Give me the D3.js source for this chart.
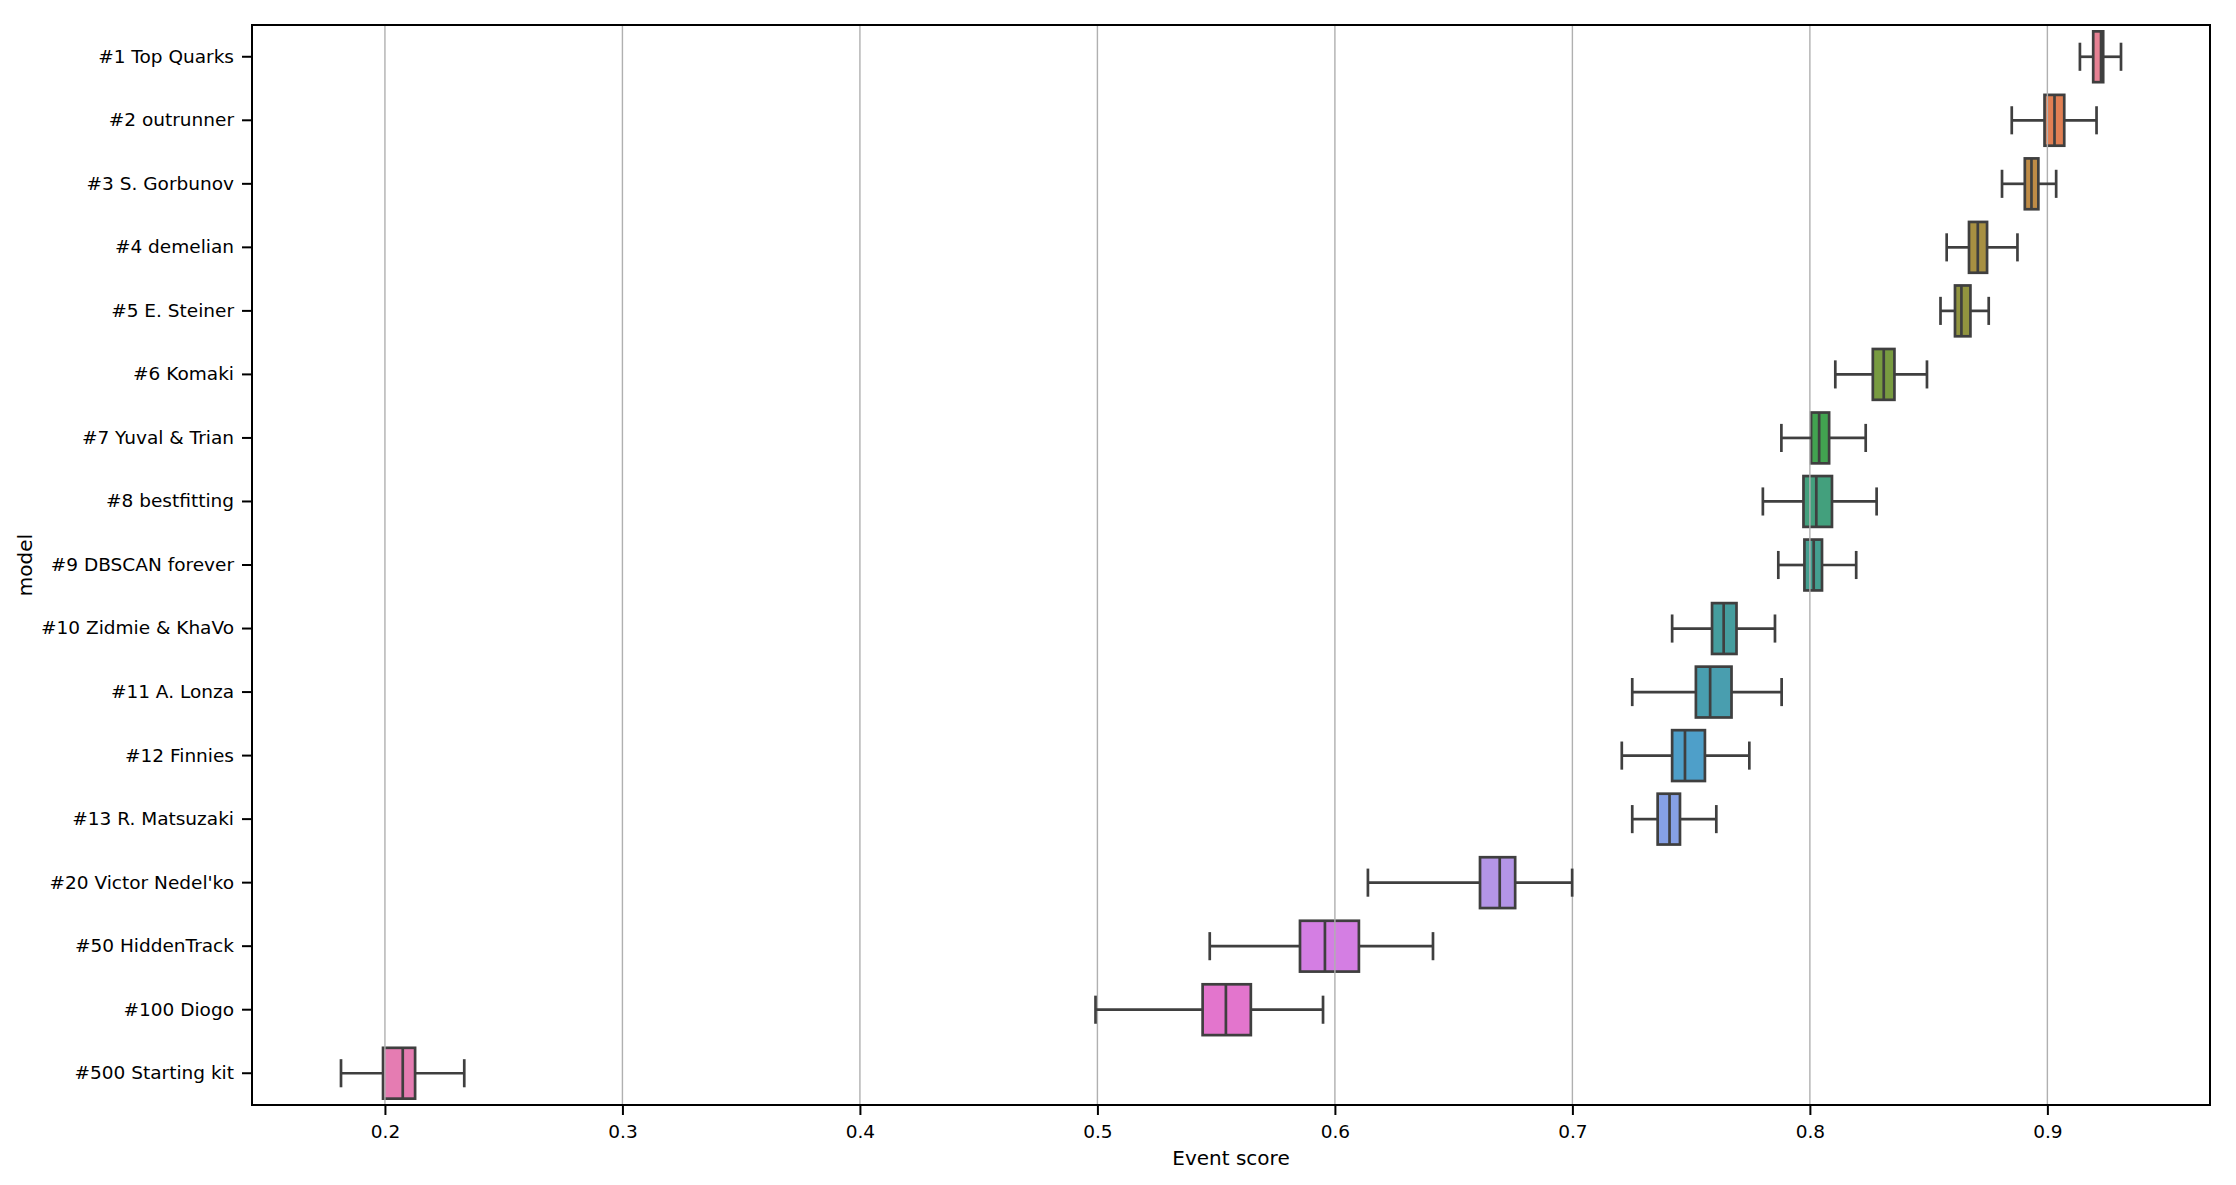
<!DOCTYPE html>
<html lang='en'>

<head>
    <meta charset='UTF-8'>
    <title>Event score by model</title>
    <script src='https://d3js.org/d3.v7.min.js' charset='utf-8'></script>
    <style>
        body {
            margin: 0px;
            overflow: hidden;
            background: #ffffff;
            font-family: 'DejaVu Sans', sans-serif;
        }

        #chart text {
            fill: #000000;
        }
    </style>
</head>

<body>
    <div id='chart'></div>
    <script>
        'use strict';

        // values
        const models = ['#1 Top Quarks', '#2 outrunner', '#3 S. Gorbunov', '#4 demelian', '#5 E. Steiner',
            '#6 Komaki', '#7 Yuval & Trian', '#8 bestfitting', '#9 DBSCAN forever', '#10 Zidmie & KhaVo',
            '#11 A. Lonza', '#12 Finnies', '#13 R. Matsuzaki', "#20 Victor Nedel'ko", '#50 HiddenTrack',
            '#100 Diogo', '#500 Starting kit'];
        const whiskerLow = [0.9137, 0.8850, 0.8809, 0.8576, 0.8550, 0.8107, 0.7880, 0.7802, 0.7867, 0.7420,
            0.7252, 0.7208, 0.7252, 0.6139, 0.5473, 0.4992, 0.1815];
        const q1 = [0.9193, 0.8988, 0.8905, 0.8670, 0.8611, 0.8265, 0.8005, 0.7973, 0.7977, 0.7588,
            0.7520, 0.7420, 0.7359, 0.6611, 0.5853, 0.5443, 0.1992];
        const medians = [0.9226, 0.9030, 0.8933, 0.8707, 0.8638, 0.8311, 0.8039, 0.8027, 0.8016, 0.7637,
            0.7580, 0.7474, 0.7409, 0.6694, 0.5958, 0.5541, 0.2075];
        const q3 = [0.9235, 0.9071, 0.8962, 0.8746, 0.8676, 0.8356, 0.8081, 0.8093, 0.8051, 0.7691,
            0.7670, 0.7558, 0.7453, 0.6759, 0.6101, 0.5646, 0.2127];
        const whiskerHigh = [0.9310, 0.9207, 0.9037, 0.8874, 0.8753, 0.8493, 0.8235, 0.8281, 0.8195, 0.7853,
            0.7881, 0.7745, 0.7606, 0.6999, 0.6413, 0.5950, 0.2334];
        const xTicks = [0.2, 0.3, 0.4, 0.5, 0.6, 0.7, 0.8, 0.9];

        const data = models.map((m, i) => ({
            model: m, lo: whiskerLow[i], q1: q1[i], med: medians[i], q3: q3[i], hi: whiskerHigh[i]
        }));

        const W = 2236, H = 1185;
        const margin = { top: 25, right: 26, bottom: 80, left: 252 },
            width = W - margin.left - margin.right,
            height = H - margin.top - margin.bottom;

        // husl palette like seaborn, desaturated to 0.75
        const M = [[3.2406, -1.5372, -0.4986], [-0.9689, 1.8758, 0.0415], [0.0557, -0.2040, 1.0570]];
        function maxChroma(L, h) {
            const hr = h * Math.PI / 180, sinH = Math.sin(hr), cosH = Math.cos(hr);
            const sub1 = Math.pow(L + 16, 3) / 1560896;
            const sub2 = sub1 > 0.008856 ? sub1 : L / 903.3;
            let result = Infinity;
            for (const [m1, m2, m3] of M) {
                const top = (0.99915 * m1 + 1.05122 * m2 + 1.14460 * m3) * sub2;
                const rb = 0.86330 * m3 - 0.17266 * m2;
                const lb = 0.12949 * m3 - 0.38848 * m1;
                const bottom = (rb * sinH + lb * cosH) * sub2;
                for (const t of [0, 1]) {
                    const C = L * (top - 1.05122 * t) / (bottom + 0.17266 * sinH * t);
                    if (C > 0 && C < result) result = C;
                }
            }
            return result;
        }
        function huslToRgb(h, s, L) {
            const C = maxChroma(L, h) / 100 * s;
            const hr = h * Math.PI / 180;
            const U = C * Math.cos(hr), V = C * Math.sin(hr);
            const t = (L + 16) / 116;
            const Y = t * t * t > 0.008856 ? t * t * t : (116 * t - 16) / 903.3;
            const vu = U / (13 * L) + 0.19784, vv = V / (13 * L) + 0.46834;
            const X = -(9 * Y * vu) / ((vu - 4) * vv - vu * vv);
            const Z = (9 * Y - 15 * vv * Y - vv * X) / (3 * vv);
            return M.map(r => {
                const c = r[0] * X + r[1] * Y + r[2] * Z;
                const v = c <= 0.0031308 ? 12.92 * c : 1.055 * Math.pow(c, 1 / 2.4) - 0.055;
                return Math.min(1, Math.max(0, v));
            });
        }
        const n = models.length;
        const colors = d3.range(n).map(i => {
            const hue = ((i / n + 0.01) % 1) * 359;
            const [r, g, b] = huslToRgb(hue, 0.9 * 99, 0.65 * 99);
            const c = d3.hsl(d3.rgb(r * 255, g * 255, b * 255));
            c.s *= 0.75;
            return c;
        });
        const lum = d3.min(colors, c => c.l) * 0.6;
        const gray = d3.rgb(lum * 255, lum * 255, lum * 255).formatHex();

        const svg = d3.select('#chart')
            .append('svg')
            .attr('width', W)
            .attr('height', H)
            .append('g')
            .attr('transform', `translate(${margin.left}, ${margin.top})`);

        const lo = d3.min(whiskerLow), hi = d3.max(whiskerHigh), pad = (hi - lo) * 0.05;
        const x = d3.scaleLinear()
            .domain([lo - pad, hi + pad])
            .range([0, width]);

        const y = d3.scaleBand()
            .domain(models)
            .range([0, height])
            .padding(0);
        const bw = y.bandwidth();
        const boxH = bw * 0.8, capH = boxH * 0.5;
        const lw = 2.7;

        // boxes
        svg.append('g')
            .selectAll('rect')
            .data(data)
            .join('rect')
            .attr('x', d => x(d.q1))
            .attr('y', d => y(d.model) + (bw - boxH) / 2)
            .attr('width', d => x(d.q3) - x(d.q1))
            .attr('height', boxH)
            .attr('fill', (d, i) => colors[i])
            .attr('stroke', gray)
            .attr('stroke-width', lw);

        // vertical grid
        svg.append('g')
            .selectAll('line')
            .data(xTicks)
            .join('line')
            .attr('x1', d => x(d))
            .attr('x2', d => x(d))
            .attr('y1', 0)
            .attr('y2', height)
            .attr('stroke', '#b0b0b0')
            .attr('stroke-width', 1.4);

        // whiskers, caps, medians
        const lines = svg.append('g')
            .attr('stroke', gray)
            .attr('stroke-width', lw)
            .attr('stroke-linecap', 'square');
        const cy = d => y(d.model) + bw / 2;
        lines.selectAll('.wl').data(data).join('line').attr('class', 'wl')
            .attr('x1', d => x(d.lo)).attr('x2', d => x(d.q1)).attr('y1', cy).attr('y2', cy)
            .attr('stroke-linecap', 'butt');
        lines.selectAll('.wh').data(data).join('line').attr('class', 'wh')
            .attr('x1', d => x(d.q3)).attr('x2', d => x(d.hi)).attr('y1', cy).attr('y2', cy)
            .attr('stroke-linecap', 'butt');
        lines.selectAll('.cl').data(data).join('line').attr('class', 'cl')
            .attr('x1', d => x(d.lo)).attr('x2', d => x(d.lo))
            .attr('y1', d => cy(d) - capH / 2).attr('y2', d => cy(d) + capH / 2);
        lines.selectAll('.ch').data(data).join('line').attr('class', 'ch')
            .attr('x1', d => x(d.hi)).attr('x2', d => x(d.hi))
            .attr('y1', d => cy(d) - capH / 2).attr('y2', d => cy(d) + capH / 2);
        lines.selectAll('.md').data(data).join('line').attr('class', 'md')
            .attr('x1', d => x(d.med)).attr('x2', d => x(d.med))
            .attr('y1', d => cy(d) - boxH / 2).attr('y2', d => cy(d) + boxH / 2)
            .attr('stroke-linecap', 'butt');

        // axes
        const xAxis = svg.append('g')
            .attr('transform', `translate(0, ${height})`)
            .call(d3.axisBottom(x).tickValues(xTicks).tickFormat(d3.format('.1f')).tickSize(10).tickPadding(10));
        const yAxis = svg.append('g')
            .call(d3.axisLeft(y).tickSize(10).tickPadding(8));
        for (const a of [xAxis, yAxis]) {
            a.select('.domain').remove();
            a.selectAll('.tick line').attr('stroke', '#000').attr('stroke-width', 2);
            a.selectAll('.tick text')
                .attr('font-family', "'DejaVu Sans', sans-serif")
                .attr('font-size', 18.5);
        }

        // frame
        svg.append('rect')
            .attr('width', width)
            .attr('height', height)
            .attr('fill', 'none')
            .attr('stroke', '#000')
            .attr('stroke-width', 2);

        svg.append('text')
            .attr('x', width / 2)
            .attr('y', height + 60)
            .attr('text-anchor', 'middle')
            .attr('font-size', 20)
            .text('Event score');

        svg.append('text')
            .attr('transform', `translate(${25 - margin.left + 7}, ${height / 2}) rotate(-90)`)
            .attr('text-anchor', 'middle')
            .attr('font-size', 20)
            .text('model');
    </script>
</body>

</html>
